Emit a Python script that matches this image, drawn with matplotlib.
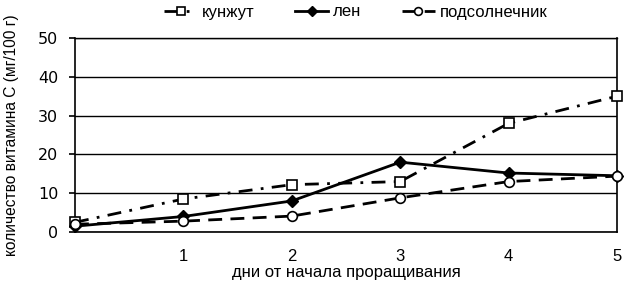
import matplotlib
matplotlib.use("Agg")
import matplotlib.pyplot as plt

days = [0, 1, 2, 3, 4, 5]
xtick_labels = ["", "1", "2", "3", "4", "5"]
kunzhut = [2.5, 8.5, 12.2, 13.0, 28.0, 35.0]
len_ = [1.5, 4.0, 8.0, 18.0, 15.2, 14.5]
podsolnechnik = [2.0, 2.8, 4.1, 8.8, 13.0, 14.4]
yticks = [0, 10, 20, 30, 40, 50]

plt.rcParams['font.family'] = ['Liberation Sans', 'DejaVu Sans']

fig = plt.figure(figsize=(6.29, 2.87), dpi=100)
ax = fig.add_axes([75/629, 55/287, (617-75)/629, (232-38)/287])

ax.plot(days, kunzhut, color='black', lw=2, linestyle=(0, (5, 3, 1, 3)),
        marker='s', markersize=7, markerfacecolor='white', markeredgecolor='black',
        markeredgewidth=1.2, clip_on=False, label='кунжут', zorder=4)
ax.plot(days, len_, color='black', lw=2, linestyle='-',
        marker='D', markersize=6, markerfacecolor='black', markeredgecolor='black',
        clip_on=False, label='лен', zorder=3)
ax.plot(days, podsolnechnik, color='black', lw=2, linestyle=(0, (5, 3)),
        marker='o', markersize=7, markerfacecolor='white', markeredgecolor='black',
        markeredgewidth=1.2, clip_on=False, label='подсолнечник', zorder=5)

ax.set_xlim(0, 5)
ax.set_ylim(0, 50)
ax.set_yticks(yticks)
ax.set_yticklabels([str(v) for v in yticks], fontsize=11.5, family='DejaVu Sans')
ax.set_xticks(days)
ax.set_xticklabels(xtick_labels, fontsize=12)
ax.tick_params(axis='x', length=0, pad=12)
ax.tick_params(axis='y', length=4, width=1.2, direction='out', pad=8)
ax.yaxis.grid(True, color='black', lw=1)
ax.set_axisbelow(True)
for s in ['left', 'right', 'bottom']:
    ax.spines[s].set_linewidth(1.2)
ax.spines['top'].set_linewidth(1.0)

ax.set_xlabel('дни от начала проращивания', fontsize=12, labelpad=1)
ax.set_ylabel('количество витамина С (мг/100 г)', fontsize=11.2)
ax.yaxis.set_label_coords(-0.103, 0.5)

ax.legend(loc='center', bbox_to_anchor=(0.518, 1 + 26/194), ncol=3, frameon=False,
          fontsize=12, handlelength=2.0, columnspacing=2.4, handletextpad=0.3,
          markerscale=0.8, borderaxespad=0, borderpad=0)

fig.savefig('out.png', dpi=100)
